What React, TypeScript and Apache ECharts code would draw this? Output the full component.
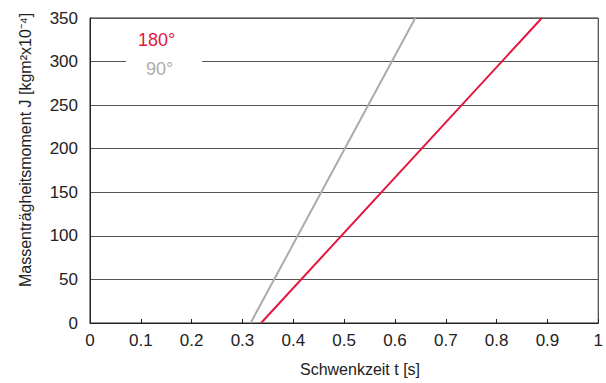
import React, { useEffect, useRef } from "react";
import * as echarts from "echarts";

const seriesNames = ["180°", "90°"];
const series180: [number, number][] = [[0.3366, 0], [0.889, 350]];
const series90: [number, number][] = [[0.316, 0], [0.64, 350]];
const xTitle = "Schwenkzeit t [s]";
const yTitle = "Massenträgheitsmoment J [kgm²x10⁻⁴]";

const RED = "#e3173e";
const GRAY = "#ababab";
const FONT = "'Liberation Sans', Arial, sans-serif";

export default function App() {
  const ref = useRef<HTMLDivElement>(null);
  useEffect(() => {
    if (!ref.current) return;
    const chart = echarts.init(ref.current, null, { renderer: "svg" });
    chart.setOption({
      animation: false,
      backgroundColor: "#ffffff",
      textStyle: { fontFamily: FONT },
      grid: {
        left: 90,
        right: 3,
        top: 18,
        bottom: 60,
        containLabel: false,
        show: true,
        borderColor: "#222",
        borderWidth: 1,
        backgroundColor: "transparent",
      },
      legend: [
        {
          data: [{ name: seriesNames[0], textStyle: { color: RED } }],
          orient: "vertical",
          left: 133,
          top: 31,
          padding: 0,
          icon: "none",
          itemWidth: 0,
          itemHeight: 0,
          selectedMode: false,
          textStyle: { fontSize: 18, fontFamily: FONT },
          z: 20,
        },
        {
          data: [{ name: seriesNames[1], textStyle: { color: GRAY } }],
          orient: "vertical",
          left: 126,
          top: 52,
          padding: [8, 29, 2, 15],
          backgroundColor: "#ffffff",
          icon: "none",
          itemWidth: 0,
          itemHeight: 0,
          selectedMode: false,
          textStyle: { fontSize: 18, fontFamily: FONT },
          z: 20,
        },
      ],
      xAxis: {
        type: "value",
        min: 0,
        max: 1,
        interval: 0.1,
        axisLine: { show: true, lineStyle: { color: "#222", width: 1 } },
        axisTick: { show: true, inside: true, length: 4, lineStyle: { color: "#222" } },
        splitLine: { show: false },
        axisLabel: { color: "#222", fontSize: 17, margin: 9, fontFamily: FONT },
      },
      yAxis: {
        type: "value",
        min: 0,
        max: 350,
        interval: 50,
        axisLine: { show: true, lineStyle: { color: "#222", width: 1 } },
        axisTick: { show: false },
        splitLine: { show: true, lineStyle: { color: "#555", width: 1 } },
        axisLabel: { color: "#222", fontSize: 17, margin: 12, fontFamily: FONT },
      },
      graphic: [
        {
          type: "text",
          x: 360,
          y: 369,
          style: {
            text: xTitle,
            fontSize: 16,
            fontFamily: FONT,
            fill: "#222",
            textAlign: "center",
            textVerticalAlign: "middle",
          },
        },
        {
          type: "text",
          x: 25,
          y: 150,
          rotation: Math.PI / 2,
          style: {
            text: yTitle,
            fontSize: 16,
            fontFamily: FONT,
            fill: "#222",
            textAlign: "center",
            textVerticalAlign: "middle",
          },
        },
      ],
      series: [
        {
          name: seriesNames[0],
          type: "line",
          data: series180,
          showSymbol: false,
          lineStyle: { color: RED, width: 2 },
          itemStyle: { color: RED },
          z: 5,
        },
        {
          name: seriesNames[1],
          type: "line",
          data: series90,
          showSymbol: false,
          lineStyle: { color: GRAY, width: 2 },
          itemStyle: { color: GRAY },
          z: 4,
        },
      ],
    });
    return () => chart.dispose();
  }, []);
  return (
    <div
      ref={ref}
      style={{ position: "absolute", left: 0, top: 0, width: 606, height: 383 }}
    />
  );
}
